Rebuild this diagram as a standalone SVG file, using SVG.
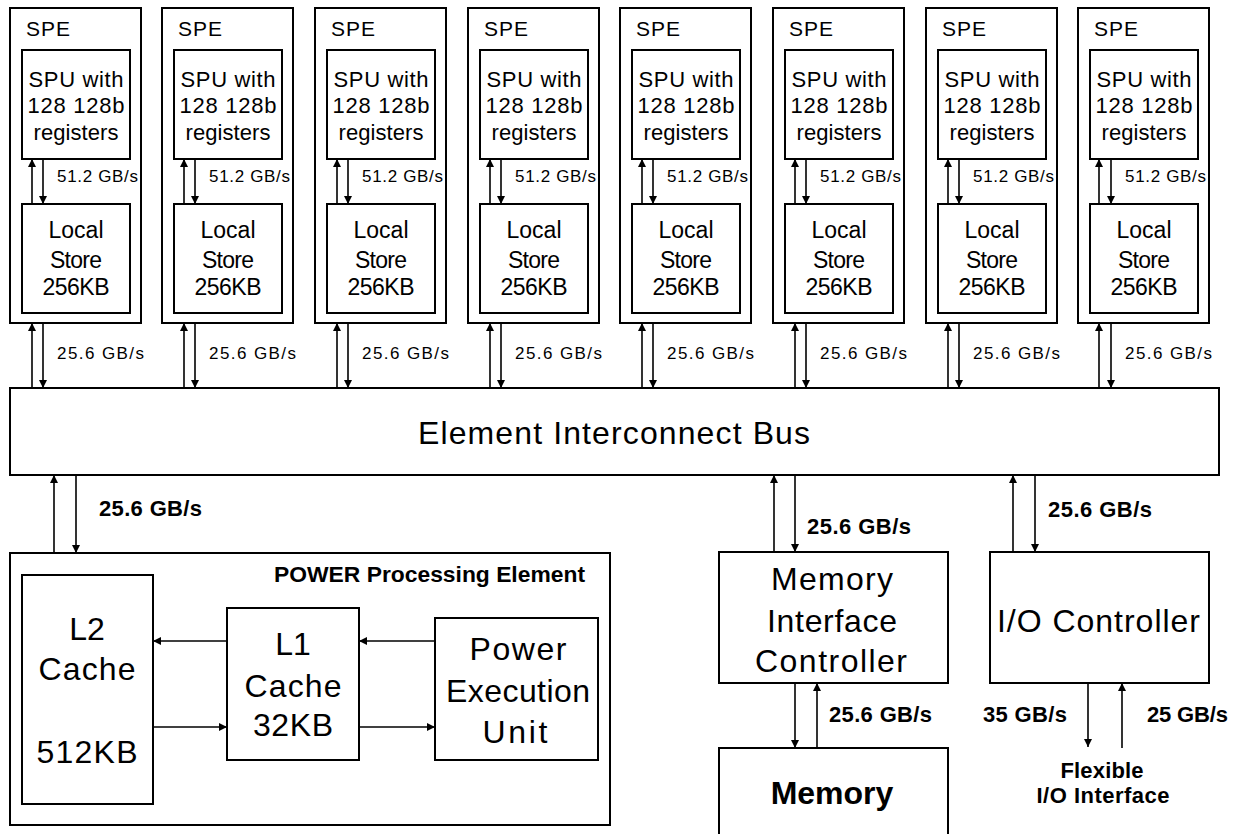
<svg xmlns="http://www.w3.org/2000/svg" width="1237" height="834" viewBox="0 0 1237 834">
<defs>
<marker id="ah" viewBox="0 0 8 8" refX="8" refY="4" markerWidth="8" markerHeight="8" markerUnits="userSpaceOnUse" orient="auto">
<path d="M0,0 L8,4 L0,8 z" fill="#000"/>
</marker>
<style>
rect{fill:#fff;stroke:#000;stroke-width:2}
text{font-family:"Liberation Sans",Arial,sans-serif;fill:#000}
.c{text-anchor:middle}
.spe{font-size:21px}
.spu{font-size:22px;text-anchor:middle}
.ls{font-size:23px;text-anchor:middle}
.sm{font-size:17px}
.big{font-size:32px;text-anchor:middle}
.b{font-weight:bold;font-size:22px}
#conn line{stroke:#000;stroke-width:1.6;marker-end:url(#ah)}
</style>
<g id="spe-tpl">
<rect x="0" y="8" width="131" height="315"/>
<text class="spe" x="16" y="36" textLength="44" lengthAdjust="spacing">SPE</text>
<rect x="12" y="50" width="108" height="109"/>
<text class="spu" x="66" y="87" textLength="95" lengthAdjust="spacing">SPU with</text>
<text class="spu" x="66" y="113" textLength="97" lengthAdjust="spacing">128 128b</text>
<text class="spu" x="66" y="140" textLength="85" lengthAdjust="spacing">registers</text>
<rect x="12" y="204" width="108" height="109"/>
<text class="ls" x="66" y="238" textLength="55" lengthAdjust="spacing">Local</text>
<text class="ls" x="66" y="268" textLength="52" lengthAdjust="spacing">Store</text>
<text class="ls" x="66" y="295" textLength="67" lengthAdjust="spacing">256KB</text>
<text class="sm" x="47" y="182" textLength="81" lengthAdjust="spacing">51.2 GB/s</text>
<text class="sm" x="47" y="359" textLength="87" lengthAdjust="spacing">25.6 GB/s</text>
</g>
</defs>

<g id="spe1" transform="translate(10,0)"><use href="#spe-tpl"/></g>
<g id="spe2" transform="translate(162,0)"><use href="#spe-tpl"/></g>
<g id="spe3" transform="translate(315,0)"><use href="#spe-tpl"/></g>
<g id="spe4" transform="translate(468,0)"><use href="#spe-tpl"/></g>
<g id="spe5" transform="translate(620,0)"><use href="#spe-tpl"/></g>
<g id="spe6" transform="translate(773,0)"><use href="#spe-tpl"/></g>
<g id="spe7" transform="translate(926,0)"><use href="#spe-tpl"/></g>
<g id="spe8" transform="translate(1078,0)"><use href="#spe-tpl"/></g>

<g id="eib">
<rect x="10" y="388" width="1209" height="87"/>
<text class="big" x="614" y="444" textLength="392" lengthAdjust="spacing">Element Interconnect Bus</text>
</g>

<g id="ppe">
<rect x="10" y="553" width="600" height="272"/>
<text class="b" x="274" y="582" font-size="21" textLength="311" lengthAdjust="spacingAndGlyphs">POWER Processing Element</text>
</g>
<g id="l2">
<rect x="22" y="575" width="131" height="229"/>
<text class="big" x="87" y="640">L2</text>
<text class="big" x="87" y="680" textLength="97" lengthAdjust="spacing">Cache</text>
<text class="big" x="87" y="763" textLength="101" lengthAdjust="spacing">512KB</text>
</g>
<g id="l1">
<rect x="227" y="608" width="132" height="152"/>
<text class="big" x="293" y="655">L1</text>
<text class="big" x="293" y="697" textLength="97" lengthAdjust="spacing">Cache</text>
<text class="big" x="293" y="736" textLength="80" lengthAdjust="spacing">32KB</text>
</g>
<g id="peu">
<rect x="435" y="618" width="163" height="142"/>
<text class="big" x="518" y="660" textLength="97" lengthAdjust="spacing">Power</text>
<text class="big" x="518" y="702" textLength="144" lengthAdjust="spacing">Execution</text>
<text class="big" x="515" y="743" textLength="65" lengthAdjust="spacing">Unit</text>
</g>

<g id="mic">
<rect x="719" y="552" width="229" height="131"/>
<text class="big" x="832" y="590" textLength="122" lengthAdjust="spacing">Memory</text>
<text class="big" x="832" y="632" textLength="130" lengthAdjust="spacing">Interface</text>
<text class="big" x="831" y="672" textLength="152" lengthAdjust="spacing">Controller</text>
</g>
<g id="memory">
<rect x="719" y="748" width="229" height="100"/>
<text class="big" x="832" y="804" font-weight="bold" font-size="35">Memory</text>
</g>
<g id="ioc">
<rect x="990" y="552" width="219" height="131"/>
<text class="big" x="1098.5" y="632" textLength="203" lengthAdjust="spacing">I/O Controller</text>
</g>
<g id="fio">
<text class="b c" x="1102" y="778" font-size="21" textLength="83" lengthAdjust="spacing">Flexible</text>
<text class="b c" x="1103" y="803" font-size="21" textLength="133" lengthAdjust="spacing">I/O Interface</text>
</g>

<g id="conn">
<line x1="32" y1="204" x2="32" y2="159"/><line x1="43" y1="159" x2="43" y2="204"/>
<line x1="32" y1="388" x2="32" y2="323"/><line x1="43" y1="323" x2="43" y2="388"/>
<line x1="184" y1="204" x2="184" y2="159"/><line x1="195" y1="159" x2="195" y2="204"/>
<line x1="184" y1="388" x2="184" y2="323"/><line x1="195" y1="323" x2="195" y2="388"/>
<line x1="337" y1="204" x2="337" y2="159"/><line x1="348" y1="159" x2="348" y2="204"/>
<line x1="337" y1="388" x2="337" y2="323"/><line x1="348" y1="323" x2="348" y2="388"/>
<line x1="490" y1="204" x2="490" y2="159"/><line x1="501" y1="159" x2="501" y2="204"/>
<line x1="490" y1="388" x2="490" y2="323"/><line x1="501" y1="323" x2="501" y2="388"/>
<line x1="642" y1="204" x2="642" y2="159"/><line x1="653" y1="159" x2="653" y2="204"/>
<line x1="642" y1="388" x2="642" y2="323"/><line x1="653" y1="323" x2="653" y2="388"/>
<line x1="795" y1="204" x2="795" y2="159"/><line x1="806" y1="159" x2="806" y2="204"/>
<line x1="795" y1="388" x2="795" y2="323"/><line x1="806" y1="323" x2="806" y2="388"/>
<line x1="948" y1="204" x2="948" y2="159"/><line x1="959" y1="159" x2="959" y2="204"/>
<line x1="948" y1="388" x2="948" y2="323"/><line x1="959" y1="323" x2="959" y2="388"/>
<line x1="1099" y1="204" x2="1099" y2="159"/><line x1="1111" y1="159" x2="1111" y2="204"/>
<line x1="1099" y1="388" x2="1099" y2="323"/><line x1="1111" y1="323" x2="1111" y2="388"/>
<line x1="54" y1="553" x2="54" y2="475"/><line x1="76" y1="475" x2="76" y2="553"/>
<line x1="227" y1="641" x2="153" y2="641"/><line x1="153" y1="727" x2="227" y2="727"/>
<line x1="435" y1="641" x2="359" y2="641"/><line x1="359" y1="727" x2="435" y2="727"/>
<line x1="774" y1="552" x2="774" y2="475"/><line x1="795" y1="475" x2="795" y2="552"/>
<line x1="795" y1="683" x2="795" y2="748"/><line x1="817" y1="748" x2="817" y2="683"/>
<line x1="1013" y1="552" x2="1013" y2="475"/><line x1="1035" y1="475" x2="1035" y2="552"/>
<line x1="1088" y1="683" x2="1088" y2="747"/><line x1="1122" y1="748" x2="1122" y2="683"/>
</g>

<g id="labels">
<text class="b" x="99" y="516" textLength="103" lengthAdjust="spacing">25.6 GB/s</text>
<text class="b" x="807" y="534" textLength="104" lengthAdjust="spacing">25.6 GB/s</text>
<text class="b" x="829" y="722" textLength="103" lengthAdjust="spacing">25.6 GB/s</text>
<text class="b" x="1048" y="517" textLength="104" lengthAdjust="spacing">25.6 GB/s</text>
<text class="b" x="983" y="722" textLength="84" lengthAdjust="spacing">35 GB/s</text>
<text class="b" x="1147" y="722" textLength="81" lengthAdjust="spacing">25 GB/s</text>
</g>
</svg>
